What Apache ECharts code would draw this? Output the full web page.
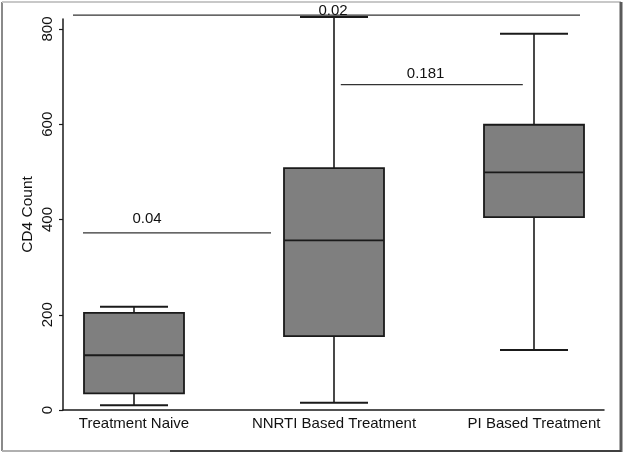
<!DOCTYPE html>
<html>
<head>
<meta charset="utf-8">
<script src="https://cdn.jsdelivr.net/npm/echarts@6/dist/echarts.min.js"></script>
<style>
html,body{margin:0;padding:0;background:#fff;}
#chart{width:625px;height:454px;}
</style>
</head>
<body>
<div id="chart"></div>
<script>
// Data
const categories = ['Treatment Naive', 'NNRTI Based Treatment', 'PI Based Treatment'];
const categoryPos = [1, 2, 3];
const whiskerMin = [10, 15, 126];
const q1 = [35, 155, 405];
const median = [115, 356, 499];
const q3 = [204, 508, 599];
const whiskerMax = [217, 825, 790];
const yTicks = [0, 200, 400, 600, 800];

// p-value annotations
const annotationLabels = ['0.04', '0.181', '0.02'];
const annotationY = [372, 683, 829];
const annotationX1 = [0.745, 2.034, 0.695];
const annotationX2 = [1.685, 2.944, 3.23];
const annotationLabelX = [1.065, 2.458, 1.995];
const annotationLabelY = [401, 705, 838];

const boxData = categoryPos.map((x, i) => [x, whiskerMin[i], q1[i], median[i], q3[i], whiskerMax[i]]);
const annData = annotationLabels.map((t, i) => [annotationX1[i], annotationX2[i], annotationY[i], annotationLabelX[i], annotationLabelY[i], t]);

const chart = echarts.init(document.getElementById('chart'));
const font = '"Liberation Sans", Arial, sans-serif';
const lineCol = '#1a1a1a';

chart.setOption({
  animation: false,
  backgroundColor: '#fff',
  grid: { left: 63, right: 21, top: 19, bottom: 44, containLabel: false },
  xAxis: {
    type: 'value', min: 0.645, max: 3.35,
    splitLine: { show: false },
    axisLine: { show: true, lineStyle: { color: lineCol, width: 1.5 } },
    axisTick: { show: false },
    axisLabel: {
      customValues: categoryPos,
      formatter: v => categories[Math.round(v) - 1] || '',
      color: '#111', fontSize: 15, fontFamily: font, margin: 6
    }
  },
  yAxis: {
    type: 'value', min: 0, max: 821,
    name: 'CD4 Count', nameLocation: 'middle', nameGap: 27, nameRotate: 90,
    nameMoveOverlap: false,
    nameTextStyle: { color: '#111', fontSize: 15.5, fontFamily: font },
    splitLine: { show: false },
    axisLine: { show: true, lineStyle: { color: lineCol, width: 1.5 } },
    axisTick: { show: true, length: 4, customValues: yTicks, lineStyle: { color: lineCol, width: 1.2 } },
    axisLabel: {
      customValues: yTicks, rotate: 90, color: '#111', fontSize: 15, fontFamily: font, margin: 8
    }
  },
  graphic: [
    { type: 'line', shape: { x1: 2, y1: 2, x2: 2, y2: 451 }, style: { stroke: '#8a8a8a', lineWidth: 2 }, silent: true },
    { type: 'line', shape: { x1: 2, y1: 2, x2: 621, y2: 2 }, style: { stroke: '#c8c8c8', lineWidth: 2 }, silent: true },
    { type: 'line', shape: { x1: 621, y1: 2, x2: 621, y2: 452 }, style: { stroke: '#5a5a5a', lineWidth: 3 }, silent: true },
    { type: 'line', shape: { x1: 2, y1: 451, x2: 170, y2: 451 }, style: { stroke: '#b0b0b0', lineWidth: 2 }, silent: true },
    { type: 'line', shape: { x1: 170, y1: 451, x2: 621, y2: 451 }, style: { stroke: '#404040', lineWidth: 2 }, silent: true }
  ],
  series: [
    {
      type: 'custom',
      name: 'box',
      data: boxData,
      encode: { x: 0, y: [1, 2, 3, 4, 5] },
      renderItem: function (params, api) {
        const x = api.value(0);
        const pMin = api.coord([x, api.value(1)]);
        const pQ1 = api.coord([x, api.value(2)]);
        const pMed = api.coord([x, api.value(3)]);
        const pQ3 = api.coord([x, api.value(4)]);
        const pMax = api.coord([x, api.value(5)]);
        const unit = api.size([1, 0])[0];
        const hb = unit * 0.25;
        const hc = unit * 0.17;
        const cx = pMed[0];
        const ls = { stroke: lineCol, lineWidth: 1.6, fill: null };
        return {
          type: 'group',
          children: [
            { type: 'line', shape: { x1: cx, y1: pQ1[1], x2: cx, y2: pMin[1] }, style: ls },
            { type: 'line', shape: { x1: cx, y1: pQ3[1], x2: cx, y2: pMax[1] }, style: ls },
            { type: 'line', shape: { x1: cx - hc, y1: pMin[1], x2: cx + hc, y2: pMin[1] }, style: { stroke: lineCol, lineWidth: 2 } },
            { type: 'line', shape: { x1: cx - hc, y1: pMax[1], x2: cx + hc, y2: pMax[1] }, style: { stroke: lineCol, lineWidth: 2 } },
            { type: 'rect', shape: { x: cx - hb, y: pQ3[1], width: hb * 2, height: pQ1[1] - pQ3[1] }, style: { fill: '#7f7f7f', stroke: lineCol, lineWidth: 1.8 } },
            { type: 'line', shape: { x1: cx - hb, y1: pMed[1], x2: cx + hb, y2: pMed[1] }, style: { stroke: lineCol, lineWidth: 1.8 } }
          ]
        };
      }
    },
    {
      type: 'custom',
      name: 'annotations',
      data: annData,
      encode: { x: [0, 1, 3], y: [2, 4] },
      renderItem: function (params, api) {
        const a = api.coord([api.value(0), api.value(2)]);
        const b = api.coord([api.value(1), api.value(2)]);
        const t = api.coord([api.value(3), api.value(4)]);
        return {
          type: 'group',
          children: [
            { type: 'line', shape: { x1: a[0], y1: a[1], x2: b[0], y2: b[1] }, style: { stroke: '#333', lineWidth: 1.2 } },
            { type: 'text', x: t[0], y: t[1], style: { text: annData[params.dataIndex][5], fill: '#111', font: '15px ' + font, align: 'center', verticalAlign: 'middle' } }
          ]
        };
      }
    }
  ]
});
</script>
</body>
</html>
